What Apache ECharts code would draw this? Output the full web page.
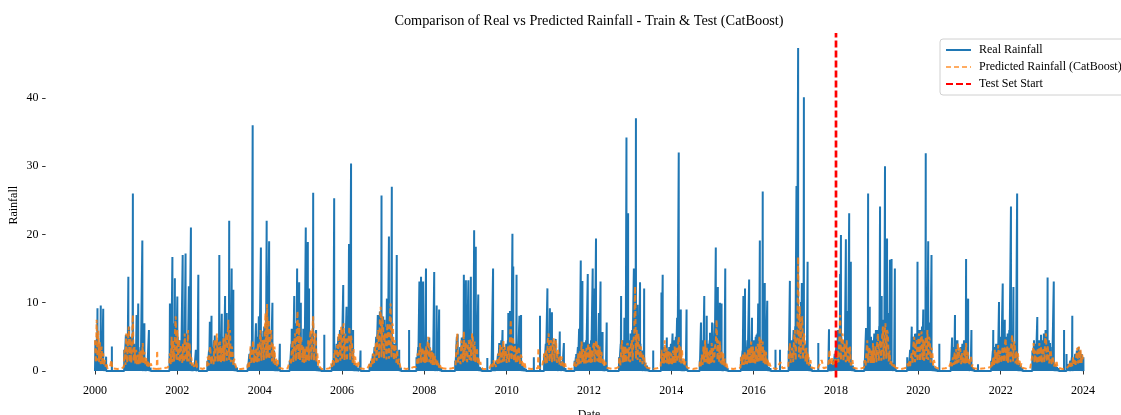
<!DOCTYPE html>
<html><head><meta charset="utf-8">
<script src="https://cdn.jsdelivr.net/npm/echarts@6/dist/echarts.min.js"></script>
<style>html,body{margin:0;padding:0;background:#fff}#c{width:1121px;height:415px}</style>
</head><body><div id="c"></div>
<script>
const xTickYears = [2000,2002,2004,2006,2008,2010,2012,2014,2016,2018,2020,2022,2024];
const yTicks = [0,10,20,30,40];
const testStartYear = 2018.0;

// Real rainfall: distinct rainy-day peaks [decimal year, value]; other days are 0
const realRain = [
[2000.06,9.2],[2000.14,9.6],[2000.20,9.1],[2000.27,2.1],[2000.41,3.6],
[2000.71,3.1],[2000.75,5.3],[2000.81,13.8],[2000.92,26.0],[2000.97,3.1],[2001.01,8.2],[2001.05,9.9],[2001.15,19.1],[2001.20,7.0],[2001.31,6.0],
[2001.82,9.9],[2001.88,16.7],[2001.94,13.6],[2002.00,10.9],[2002.13,17.0],[2002.20,17.2],[2002.28,12.4],[2002.33,21.0],[2002.45,3.1],[2002.51,14.1],
[2002.79,7.2],[2002.83,8.1],[2002.91,5.2],[2003.02,17.0],[2003.08,8.4],[2003.16,11.0],[2003.20,8.5],[2003.26,22.0],[2003.32,15.0],[2003.36,11.9],
[2003.81,4.5],[2003.83,36.0],[2003.91,7.0],[2003.98,8.0],[2004.03,18.1],[2004.09,5.9],[2004.17,22.0],[2004.23,19.0],[2004.31,10.0],[2004.49,4.0],
[2004.78,6.2],[2004.84,11.0],[2004.91,15.0],[2004.96,13.0],[2005.00,10.0],[2005.06,6.2],[2005.12,21.0],[2005.17,18.9],[2005.20,12.1],[2005.25,3.1],[2005.30,26.1],[2005.37,6.0],[2005.57,5.3],
[2005.81,25.3],[2005.99,4.9],[2006.03,12.6],[2006.11,9.4],[2006.17,18.6],[2006.22,30.4],[2006.27,6.0],[2006.45,3.0],
[2006.87,8.2],[2006.92,8.7],[2006.96,25.7],[2007.00,8.0],[2007.09,10.6],[2007.14,19.7],[2007.21,27.0],[2007.33,17.0],[2007.39,3.1],[2007.63,6.0],
[2007.88,13.1],[2007.92,13.8],[2007.97,13.1],[2008.04,15.0],[2008.12,4.9],[2008.24,14.5],[2008.30,9.6],[2008.36,9.0],
[2008.81,5.4],[2008.91,4.9],[2008.96,14.1],[2009.01,13.3],[2009.07,13.3],[2009.13,13.8],[2009.21,20.6],[2009.25,18.2],[2009.31,11.2],[2009.53,1.9],
[2009.67,15.0],[2009.82,4.1],[2009.90,6.0],[2010.04,8.5],[2010.08,8.8],[2010.14,20.1],[2010.16,15.3],[2010.24,14.1],[2010.31,8.1],[2010.35,8.2],[2010.66,2.0],
[2010.81,8.1],[2010.99,12.1],[2011.05,9.2],[2011.10,8.6],[2011.19,4.7],[2011.29,5.8],[2011.39,4.1],
[2011.68,2.0],[2011.76,6.2],[2011.80,16.2],[2011.84,13.2],[2011.88,4.2],[2011.97,14.2],[2012.09,15.0],[2012.14,12.1],[2012.17,19.4],[2012.24,8.5],[2012.28,13.1],[2012.33,5.7],[2012.43,7.1],
[2012.78,11.0],[2012.86,7.8],[2012.91,34.2],[2012.95,23.1],[2013.00,3.1],[2013.09,15.0],[2013.14,37.0],[2013.18,9.7],[2013.24,13.0],[2013.34,12.1],[2013.56,3.0],
[2013.76,11.5],[2013.79,14.1],[2013.89,4.9],[2014.03,5.5],[2014.14,7.8],[2014.18,32.0],[2014.23,9.0],[2014.37,9.0],
[2014.72,7.1],[2014.80,11.0],[2014.86,8.1],[2014.94,5.6],[2014.99,7.1],[2015.08,18.1],[2015.13,12.3],[2015.18,10.0],[2015.22,9.9],[2015.31,15.0],
[2015.75,11.0],[2015.79,12.1],[2015.89,13.4],[2015.96,7.8],[2016.07,5.3],[2016.11,9.9],[2016.15,19.1],[2016.22,26.3],[2016.27,12.9],[2016.33,10.3],[2016.53,3.1],[2016.64,3.1],
[2016.88,13.2],[2017.04,27.1],[2017.08,47.3],[2017.15,10.1],[2017.17,12.9],[2017.22,40.1],[2017.31,16.0],[2017.57,4.1],[2017.83,6.1],
[2018.10,14.2],[2018.12,19.9],[2018.24,19.3],[2018.28,8.8],[2018.32,23.1],[2018.36,16.0],
[2018.73,6.3],[2018.78,26.0],[2018.82,9.4],[2018.97,6.0],[2019.07,24.1],[2019.11,11.0],[2019.19,30.0],[2019.24,19.4],[2019.29,8.5],[2019.31,16.3],[2019.35,16.4],[2019.43,15.0],
[2019.73,2.0],[2019.80,3.1],[2019.84,6.5],[2019.92,5.4],[2019.98,16.0],[2020.04,4.9],[2020.12,9.0],[2020.18,31.9],[2020.24,19.0],[2020.28,7.1],[2020.32,17.0],[2020.51,4.0],
[2020.82,4.9],[2020.89,8.2],[2020.95,4.5],[2021.11,4.5],[2021.16,16.4],[2021.21,10.6],[2021.29,6.0],[2021.45,1.0],
[2021.82,6.0],[2021.96,10.1],[2022.05,12.8],[2022.10,7.5],[2022.16,4.5],[2022.25,24.1],[2022.31,12.3],[2022.40,26.0],
[2022.81,4.0],[2022.89,7.9],[2022.98,5.3],[2023.08,4.1],[2023.14,13.7],[2023.20,4.1],[2023.29,13.1],[2023.54,6.0],[2023.60,2.5],[2023.74,8.1],[2023.83,1.9]
];

// Wet-season start years (decimal)
const seasonStart = [2000.00,2000.70,2001.80,2002.72,2003.70,2004.72,2005.74,2006.66,2007.80,2008.74,2009.62,2010.90,2011.64,2012.72,2013.74,2014.68,2015.68,2016.84,2017.80,2018.68,2019.72,2020.78,2021.76,2022.76,2023.64];
const PRED_STEP = 0.02;   // predicted samples spacing (years)
const FILL_STEP = 0.04;   // smaller real-rain days spacing (years)

// Smaller real-rainfall days inside each wet season, read from the dense blue clusters
const realFill = [
[4.5,5.5,4.0,3.5,2.5,1.5,0.8],
[2.0,4.5,4.0,6.5,5.0,3.5,4.0,3.0,3.5,2.5,3.5,2.5,2.0,1.5,1.0,0.8,0.5],
[2.5,5.5,5.0,7.0,6.0,5.0,4.5,4.0,5.5,4.5,5.5,4.0,2.5,1.5,1.0,0.8,1.5,0.5],
[1.5,3.0,2.5,3.5,4.5,4.0,4.5,3.5,4.0,5.0,4.0,5.5,6.0,5.0,3.5,2.0,1.2,0.8,0.5],
[1.0,2.5,3.5,4.0,3.0,4.5,5.0,4.5,5.5,5.0,6.5,7.0,8.0,6.0,5.5,4.0,3.0,1.5,1.0,0.5],
[1.5,4.0,5.0,6.0,7.0,5.0,4.5,4.0,4.5,5.0,5.5,6.5,6.0,5.5,3.5,2.0,1.0,0.8,0.5,0.3],
[1.0,1.5,3.0,4.0,5.0,6.0,5.5,6.5,5.5,6.0,5.0,4.0,3.0,2.0,1.2,0.8,0.5,0.3],
[1.0,1.5,2.5,3.5,5.0,6.5,8.0,7.0,6.0,7.5,6.5,8.0,8.5,6.5,5.0,4.0,2.5,1.5,1.0,0.5],
[2.0,3.5,4.0,3.5,4.0,4.5,5.0,4.0,3.5,3.0,2.5,2.0,1.5,1.0,0.6,0.4],
[1.5,5.0,2.5,3.5,4.5,5.0,4.5,5.0,5.5,5.0,4.5,3.5,2.5,1.5,1.0,0.6,0.4],
[1.0,1.5,1.0,1.5,2.5,3.5,4.5,4.0,3.5,4.0,4.5,6.0,5.5,4.5,4.0,4.0,3.0,2.0,1.2,0.8,0.5,0.3],
[2.5,4.0,5.5,5.0,4.5,4.5,4.0,3.0,2.5,2.0,1.5,1.0,0.6,0.4],
[1.5,2.5,3.5,4.5,3.5,4.0,4.0,4.5,4.0,4.0,4.5,5.0,4.5,4.0,3.5,2.5,1.8,1.2,0.8,0.5,0.3],
[2.0,4.0,4.5,4.0,4.5,5.0,4.5,5.5,6.0,6.5,7.0,5.5,5.0,4.0,3.0,2.0,1.2,0.8,0.4],
[3.0,4.5,3.5,3.0,3.0,3.5,4.0,4.0,4.5,5.0,4.0,3.5,2.5,1.5,1.0,0.6,0.4],
[1.5,3.0,4.5,4.0,3.5,4.0,4.5,4.0,5.0,7.0,5.0,4.5,3.5,2.5,1.5,1.0,0.6,0.4],
[2.0,3.0,3.0,3.5,4.5,5.0,4.0,3.5,4.5,5.0,5.5,5.0,4.5,3.5,2.5,1.5,1.0,0.6,0.4],
[3.0,4.0,4.5,6.0,6.5,9.0,8.0,7.0,6.0,5.0,4.0,3.0,2.0,1.0,0.5],
[1.0,1.5,1.0,1.5,2.5,4.0,6.0,6.0,5.0,4.5,4.5,4.0,3.0,2.0,1.2,0.8,0.4],
[1.5,4.0,5.0,4.5,5.0,4.5,5.5,5.5,6.0,6.5,7.0,7.5,7.0,6.0,4.5,3.0,2.0,1.2,0.8,0.4],
[1.0,1.5,3.0,5.0,5.0,5.5,5.5,6.0,6.0,6.5,6.0,5.0,4.0,3.0,2.0,1.2,0.8,0.5,0.3],
[1.5,2.5,3.5,4.5,3.5,3.0,3.5,4.0,3.5,3.0,2.5,1.5,1.0,0.6,0.4],
[1.5,3.0,3.5,4.0,4.0,4.5,5.0,4.5,5.5,5.0,5.5,6.0,5.5,5.0,4.0,3.0,2.0,1.2,0.8,0.4],
[3.0,4.5,4.0,4.0,4.5,4.5,4.5,5.5,6.0,5.0,4.5,3.5,2.5,1.5,1.0,0.6,0.4],
[1.0,1.5,2.0,1.5,2.5,3.0,3.5,3.0,2.5,2.0]
];

// Predicted rainfall (CatBoost) in each wet season, sampled every PRED_STEP from seasonStart
const predSeason = [
[4.5,1.2,7.5,1.5,5.9,1.3,4.2,1.0,3.6,0.9,2.6,0.8,1.6,0.6,1.2,0.4,0.6,0.3,0.5,0.3,1.6,0.4,0.3],
[0.6,3.1,0.9,5.5,1.2,4.0,6.5,1.3,4.8,1.2,4.8,8.2,1.4,3.5,1.1,3.1,1.0,2.4,1.0,2.8,1.1,3.0,1.2,4.1,1.0,2.8,0.9,2.0,0.7,1.6,0.6,1.2,0.5,1.1,0.4,0.6,0.3],
[0.8,2.6,1.0,5.0,1.3,4.5,1.4,5.2,8.0,1.5,6.0,1.6,4.6,1.3,3.8,3.6,1.2,4.0,1.3,5.5,1.5,4.2,1.4,6.0,1.4,4.1,1.0,2.0,0.8,1.2,0.6,0.9,0.5,1.6,0.5,0.6,0.3],
[0.6,2.1,0.8,2.6,3.6,1.0,2.2,1.6,1.0,4.5,1.2,4.0,5.5,1.4,4.2,1.3,4.3,1.3,3.5,1.4,4.8,1.4,4.0,5.5,1.5,5.0,7.5,1.6,6.0,1.3,3.6,3.1,0.9,1.8,1.6,0.6,0.5,0.3],
[0.5,1.1,0.6,1.8,3.6,1.0,2.8,4.5,1.2,3.1,1.2,3.4,1.3,4.1,1.4,3.8,6.0,1.5,4.0,4.5,1.6,5.0,8.5,1.8,9.8,2.0,7.5,1.7,5.2,6.0,1.4,4.0,1.1,3.6,0.9,1.8,0.7,1.6,0.5,0.3],
[0.6,1.6,0.9,3.0,4.5,1.3,4.2,5.5,1.5,6.0,8.8,1.7,7.0,1.6,5.0,4.1,1.3,3.6,1.2,3.3,1.3,3.8,1.4,4.5,1.5,4.6,6.0,1.6,5.8,8.0,1.5,5.0,5.5,1.2,2.6,0.8,1.6,0.6,0.5,0.3],
[1.1,0.6,1.6,0.8,3.1,2.4,1.0,3.8,1.3,5.5,4.2,1.5,6.5,1.6,5.6,7.0,1.6,5.5,5.5,1.5,5.0,4.6,6.5,1.6,5.2,4.1,1.2,3.2,0.9,2.1,0.8,1.4,0.6,1.35,0.4,0.3],
[0.5,1.1,0.6,1.8,0.9,2.6,1.2,3.0,4.1,1.5,5.0,6.0,1.8,7.5,9.4,2.0,8.0,6.5,1.8,5.5,4.8,1.7,7.0,5.5,1.8,7.5,9.9,2.0,7.0,6.5,1.6,4.5,3.8,1.2,3.1,0.9,1.8,1.1,0.5,0.3],
[0.6,1.1,2.6,0.9,3.0,4.1,1.2,3.4,3.1,1.1,3.0,1.2,3.6,1.3,4.2,5.0,1.3,3.4,1.1,3.0,0.9,2.6,0.9,2.2,2.1,0.7,1.6,1.35,0.5,0.9,0.4,0.8,0.4,0.3],
[0.5,1.0,3.5,5.5,1.2,2.1,1.8,1.0,4.5,3.2,1.3,5.8,1.5,4.2,3.6,1.3,4.0,4.5,1.4,4.6,1.5,5.5,4.8,1.5,4.3,1.3,3.4,3.1,1.0,2.0,0.8,1.35,0.6,0.5,0.3],
[0.5,1.1,0.6,1.6,0.7,1.0,0.6,1.6,0.9,2.6,1.0,3.8,1.2,3.5,1.3,4.5,1.4,3.6,2.8,1.2,3.0,3.6,1.3,4.5,7.5,1.6,5.0,4.5,1.4,3.8,1.3,3.4,1.2,3.0,3.6,1.0,2.4,2.1,0.7,1.2,0.6,1.1,0.4,0.3],
[0.6,2.6,1.0,3.2,1.2,4.6,5.5,1.4,4.0,4.5,1.3,4.2,4.8,1.4,4.0,4.5,1.2,3.1,2.6,0.9,2.2,0.8,2.1,0.7,1.2,0.5,1.1,0.4,0.3],
[0.5,1.35,0.6,1.8,0.8,2.6,1.0,3.0,1.1,4.3,1.3,3.2,1.1,3.1,1.1,3.4,1.2,4.1,1.3,3.5,1.2,3.1,1.3,3.6,4.1,1.3,3.8,4.5,1.4,3.8,1.3,3.6,1.1,2.8,2.6,0.8,1.8,0.7,1.35,0.5,0.4,0.3],
[0.6,2.1,0.8,2.8,4.5,1.2,3.6,1.3,3.6,1.3,3.8,4.1,1.4,3.5,1.3,4.0,4.5,1.5,4.6,5.5,12.4,1.8,6.0,1.6,5.5,4.0,1.3,3.6,3.6,1.0,2.4,2.1,0.7,1.2,0.5,0.4,0.3],
[0.6,3.1,1.0,2.6,1.1,4.5,1.2,3.4,1.1,3.1,1.0,2.8,0.9,2.6,1.0,3.0,1.1,3.6,1.2,3.4,1.3,3.4,5.0,1.3,3.6,1.1,3.1,0.9,2.0,0.7,1.4,1.6,0.5,0.4,0.3],
[0.5,1.6,0.7,2.4,0.9,3.6,1.2,4.5,1.3,3.4,1.1,2.8,1.0,3.2,1.1,4.1,1.3,3.4,1.2,3.6,4.0,7.5,1.6,4.5,1.3,4.3,1.1,3.0,0.9,2.6,0.8,1.8,0.6,1.1,0.5,0.4,0.3],
[0.5,2.1,0.8,2.4,0.9,2.8,1.0,2.6,1.0,3.1,1.1,3.4,1.1,4.3,1.2,3.6,1.2,3.1,1.1,3.8,1.3,4.0,1.4,5.0,1.5,4.6,1.4,4.3,1.2,3.2,1.0,2.8,0.8,1.8,0.7,1.2,1.35,0.5,0.4,0.3],
[0.6,2.5,4.1,1.2,3.0,3.4,1.3,4.5,6.0,1.6,5.0,4.5,16.7,2.0,9.5,1.8,6.5,8.0,1.7,5.5,4.5,1.3,3.4,1.0,2.6,0.8,1.2,1.6,0.5,0.4,0.3],
[0.6,1.2,3.1,0.9,1.2,2.1,0.8,1.4,0.9,1.8,3.1,1.2,3.0,1.3,4.5,8.2,1.6,5.0,5.5,1.4,4.0,4.1,1.3,4.5,1.3,3.6,1.1,3.6,0.8,1.2,1.6,0.5,0.4,0.3],
[0.5,1.6,0.8,2.8,4.5,1.2,3.4,3.1,1.1,3.0,1.2,4.1,1.2,3.2,3.6,1.3,4.2,5.5,1.5,4.0,4.5,1.5,5.0,6.5,1.7,5.5,7.0,1.8,6.0,5.5,1.4,3.0,1.0,1.6,0.8,1.2,0.6,1.1,0.5,0.4,0.3],
[0.5,1.1,0.6,1.4,0.7,2.0,2.6,1.1,3.8,5.0,1.3,4.0,4.5,1.4,4.6,5.5,1.5,4.8,5.8,1.6,4.6,1.5,4.5,4.8,1.6,6.0,1.6,5.0,4.5,1.2,3.4,2.8,0.8,1.6,1.35,0.5,0.4,0.3],
[0.5,1.35,0.7,2.0,0.9,2.8,1.0,3.2,1.1,4.1,1.2,3.4,3.1,1.0,2.6,2.8,1.0,3.2,1.1,4.1,1.1,2.8,2.6,0.8,1.8,2.1,0.6,1.0,0.4,0.3],
[0.6,1.35,0.7,2.0,0.9,3.1,1.1,2.8,1.1,3.8,1.2,3.0,3.1,1.2,3.2,3.6,1.3,3.8,4.8,1.4,3.6,1.2,3.4,3.4,1.3,4.2,5.3,1.4,4.0,4.3,1.1,3.0,0.9,2.6,0.8,1.5,0.6,1.1,0.5,0.4,0.3],
[0.6,2.6,4.1,1.2,3.0,3.1,1.1,3.4,1.1,4.1,1.2,3.6,1.2,3.4,3.0,1.3,4.5,5.5,1.4,3.8,3.6,1.1,3.1,2.8,0.9,2.2,2.3,0.7,1.4,0.6,1.35,0.5,0.4,0.3],
[0.4,0.8,1.35,0.6,1.2,0.7,2.1,0.8,1.6,0.9,2.4,3.4,1.1,3.6,1.2,3.1,1.0,2.4,1.6]
];

// Predicted rainfall in the dry months between seasons [decimal year, value]
const predDry = [
[2000.55,0.3],[2000.65,0.4],[2001.50,0.3],[2001.51,3.0],[2001.52,0.3],[2001.65,0.4],[2001.76,0.5],[2002.62,0.3],[2003.55,0.3],[2003.65,0.4],
[2004.58,0.3],[2004.68,0.4],[2005.60,0.3],[2005.70,0.4],[2006.55,0.3],[2006.62,0.4],[2007.56,0.3],[2007.66,0.4],[2007.75,0.6],[2008.57,0.3],
[2008.67,0.4],[2009.52,0.3],[2009.58,0.4],[2010.60,0.3],[2010.70,0.4],[2010.76,0.4],[2010.77,3.4],[2010.78,0.4],[2010.86,0.6],[2011.56,0.3],
[2011.62,0.4],[2012.56,0.3],[2012.66,0.4],[2013.55,0.3],[2013.65,0.4],[2014.52,0.3],[2014.62,0.4],[2015.50,0.3],[2015.62,0.4],[2016.55,0.3],
[2016.65,1.3],[2016.70,0.4],[2016.78,0.5],[2017.55,0.3],[2017.65,1.6],[2017.70,0.4],[2018.55,0.3],[2018.62,0.4],[2019.58,0.3],[2019.66,0.4],
[2020.55,0.3],[2020.65,0.4],[2020.74,0.5],[2021.45,0.3],[2021.60,0.4],[2021.70,0.5],[2022.64,0.3],[2022.72,0.5],[2023.50,0.3],[2023.60,0.4]
];

const Y_MIN = -0.95, Y_MAX = 49.5;
const HALF_DAY = 0.5 / 365.25;

// Build real series: each listed day is a spike, surrounding days are zero
const realEvents = realRain.slice();
realFill.forEach((vals, s) => vals.forEach((v, i) => {
  if (v > 0) realEvents.push([+(seasonStart[s] + 0.01 + FILL_STEP * i).toFixed(3), v]);
}));
realEvents.sort((a, b) => a[0] - b[0]);
const realSeries = [[2000.0, 0]];
realEvents.forEach(([t, v]) => realSeries.push([t - HALF_DAY, 0], [t, v], [t + HALF_DAY, 0]));
realSeries.push([2023.999, 0]);

// Build predicted series
const predSeries = predDry.slice();
predSeason.forEach((vals, s) => vals.forEach((v, i) => {
  predSeries.push([+(seasonStart[s] + PRED_STEP * i).toFixed(3), v]);
}));
predSeries.sort((a, b) => a[0] - b[0]);

const FONT = '"Liberation Serif", "DejaVu Serif", serif';
const chart = echarts.init(document.getElementById('c'), null, { renderer: 'canvas' });
chart.setOption({
  animation: false,
  backgroundColor: '#fff',
  textStyle: { fontFamily: FONT, color: '#000' },
  title: {
    text: 'Comparison of Real vs Predicted Rainfall - Train & Test (CatBoost)',
    left: 584, top: 9, textAlign: 'center',
    textStyle: { fontFamily: FONT, fontSize: 14.3, fontWeight: 'normal', color: '#000' }
  },
  legend: {
    orient: 'vertical', left: 940, top: 39,
    padding: [5, 8, 5, 5], itemGap: 5, itemWidth: 25, itemHeight: 12,
    borderColor: '#d0d0d0', borderWidth: 1, borderRadius: 3,
    backgroundColor: 'rgba(255,255,255,0.8)',
    itemStyle: { opacity: 0, color: 'rgba(0,0,0,0)', borderWidth: 0 },
    textStyle: { fontFamily: FONT, fontSize: 12, color: '#000', padding: [0, 0, 0, 3] },
    data: [
      { name: 'Real Rainfall' },
      { name: 'Predicted Rainfall (CatBoost)', lineStyle: { opacity: 0.65 } },
      { name: 'Test Set Start' }
    ]
  },
  grid: { left: 45.6, top: 33, width: 1086.8, height: 344.5, containLabel: false, outerBoundsMode: 'none' },
  xAxis: {
    type: 'value', min: 1998.8, max: 2025.2,
    name: 'Date', nameLocation: 'middle', nameGap: 31, nameMoveOverlap: false,
    nameTextStyle: { fontFamily: FONT, fontSize: 12, color: '#000' },
    axisLine: { show: false },
    splitLine: { show: false },
    axisTick: { show: true, length: 3.5, customValues: xTickYears, lineStyle: { color: '#000', width: 0.8 } },
    axisLabel: { customValues: xTickYears, margin: 7, fontFamily: FONT, fontSize: 12, color: '#000', formatter: v => String(Math.round(v)) }
  },
  yAxis: {
    type: 'value', min: Y_MIN, max: Y_MAX,
    name: 'Rainfall', nameLocation: 'middle', nameGap: 26, nameRotate: 90, nameMoveOverlap: false,
    nameTextStyle: { fontFamily: FONT, fontSize: 12, color: '#000' },
    axisLine: { show: false },
    splitLine: { show: false },
    axisTick: { show: true, length: 3.5, customValues: yTicks, lineStyle: { color: '#000', width: 0.8 } },
    axisLabel: { customValues: yTicks, margin: 7, fontFamily: FONT, fontSize: 12, color: '#000' }
  },
  series: [
    {
      name: 'Real Rainfall', type: 'line', data: realSeries,
      showSymbol: false, symbol: 'none', sampling: false,
      lineStyle: { color: '#1f77b4', width: 2 }, itemStyle: { color: '#1f77b4' }, z: 2
    },
    {
      name: 'Predicted Rainfall (CatBoost)', type: 'line', data: predSeries,
      showSymbol: false, symbol: 'none',
      lineStyle: { color: '#ff7f0e', width: 2, type: [5, 3], opacity: 0.85 },
      itemStyle: { color: '#ff7f0e' }, z: 3
    },
    {
      name: 'Test Set Start', type: 'line',
      data: [[testStartYear, Y_MIN], [testStartYear, Y_MAX]],
      showSymbol: false, symbol: 'none',
      lineStyle: { color: '#ff0000', width: 2.7, type: [7, 3] },
      itemStyle: { color: '#ff0000' }, z: 4
    }
  ]
});
</script></body></html>
